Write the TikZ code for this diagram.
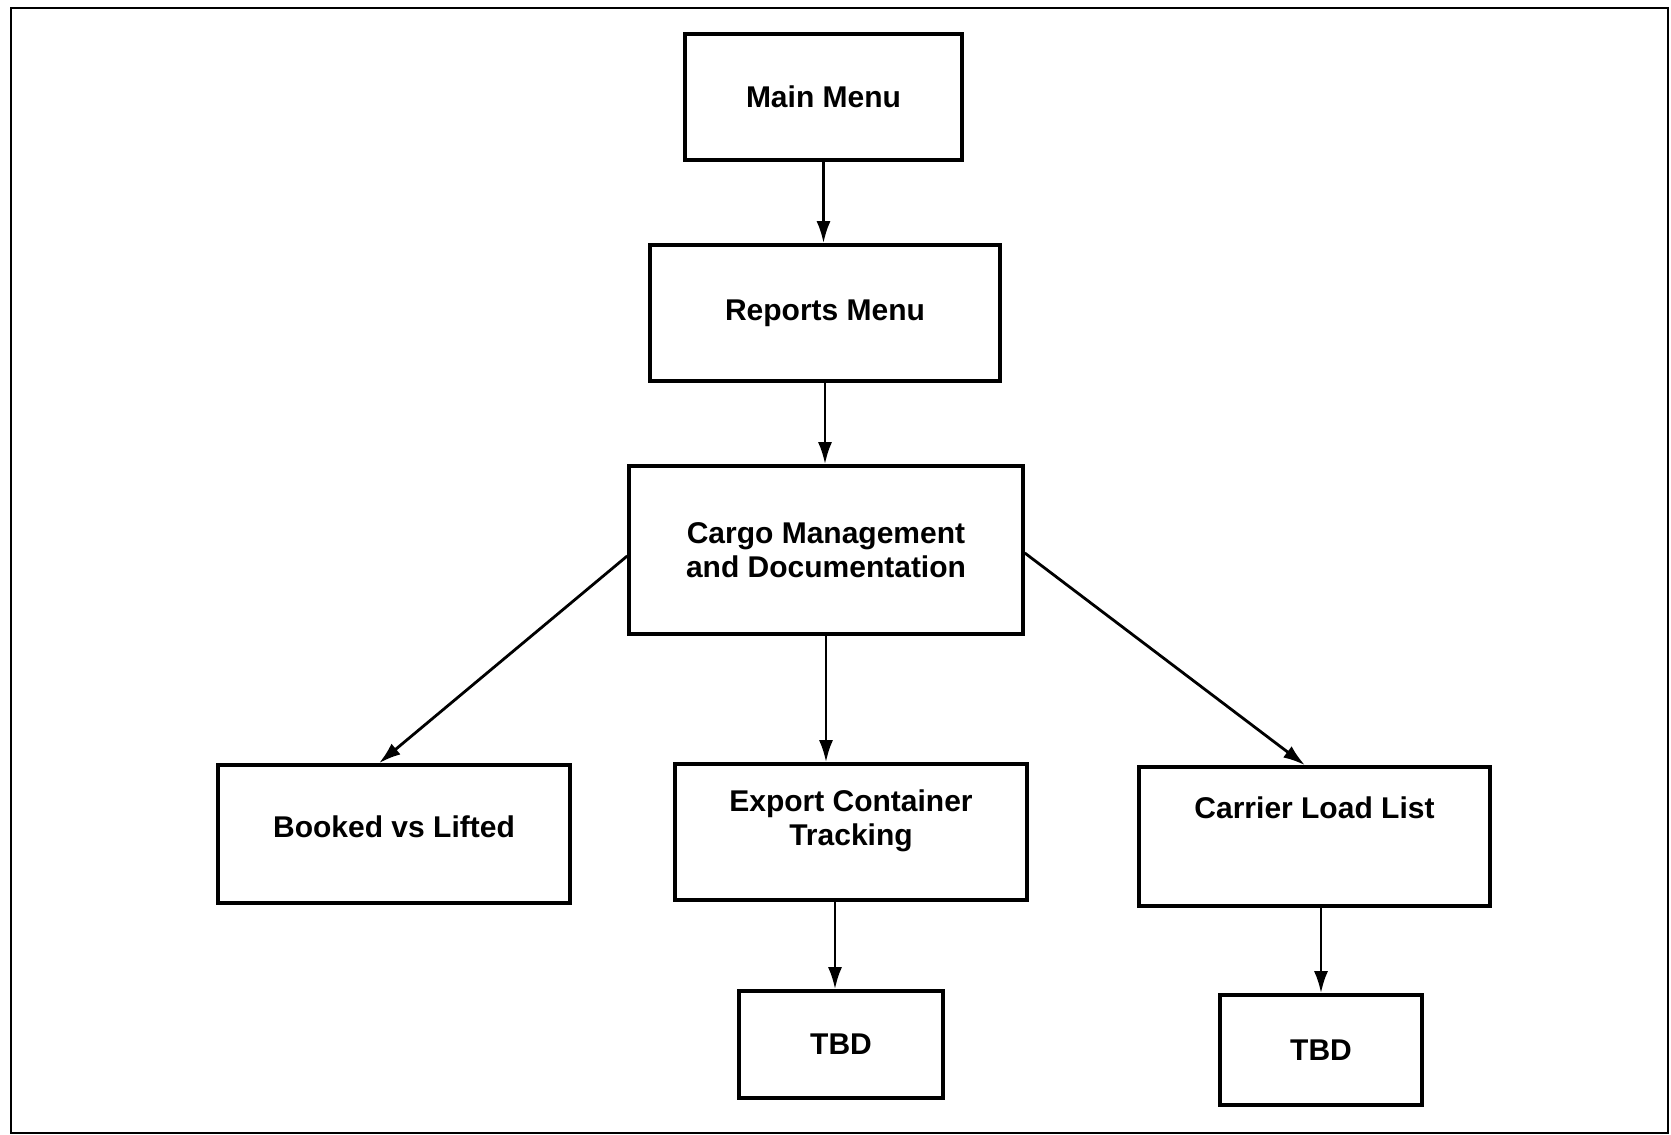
\documentclass[tikz,border=0pt]{standalone}
\usepackage{fontspec}
\setmainfont{Liberation Sans}
\usetikzlibrary{arrows.meta}

\begin{document}
\begin{tikzpicture}[x=0.5pt,y=-0.5pt]
	\tikzset{menu/.style={draw,line width=1.8pt,inner sep=0pt,align=center,
		font=\bfseries\fontsize{15}{17}\selectfont}}
	\useasboundingbox (0,0) rectangle (1671,1135);
	\draw[line width=1pt] (11,8) rectangle (1668,1133);
	\node[menu,minimum width=138.5pt,minimum height=63pt] (main) at (823.5,97) {Main Menu};
	\node[menu,minimum width=175pt,minimum height=68pt] (reports) at (825,313) {Reports Menu};
	\node[menu,minimum width=197pt,minimum height=84pt] (cargo) at (826,550) {Cargo Management\\and Documentation};
	\node[menu,minimum width=176pt,minimum height=69pt,text depth=7.5pt] (booked) at (394,834) {Booked vs Lifted};
	\node[menu,minimum width=176pt,minimum height=68pt,text depth=14.5pt] (export) at (851,832) {Export Container\\Tracking};
	\node[menu,minimum width=175.5pt,minimum height=69.5pt,text depth=28.5pt] (carrier) at (1314.5,836.5) {Carrier Load List};
	\node[menu,minimum width=102pt,minimum height=53.5pt] (tbd1) at (841,1044.5) {TBD};
	\node[menu,minimum width=101pt,minimum height=55pt] (tbd2) at (1321,1050) {TBD};
	\path[-{Latex[length=11pt,width=7pt]},line width=1.4pt]
		(main.south) edge (main.south |- reports.north)
		(reports.south) edge (reports.south |- cargo.north)
		([yshift=-3pt]cargo.west) edge ([xshift=-7.5pt]booked.north)
		(cargo.south) edge (cargo.south |- export.north)
		([yshift=-1.5pt]cargo.east) edge ([xshift=-4.75pt]carrier.north)
		([xshift=-3pt]tbd1.north |- export.south) edge ([xshift=-3pt]tbd1.north)
		(tbd2.north |- carrier.south) edge (tbd2.north);
\end{tikzpicture}
\end{document}
